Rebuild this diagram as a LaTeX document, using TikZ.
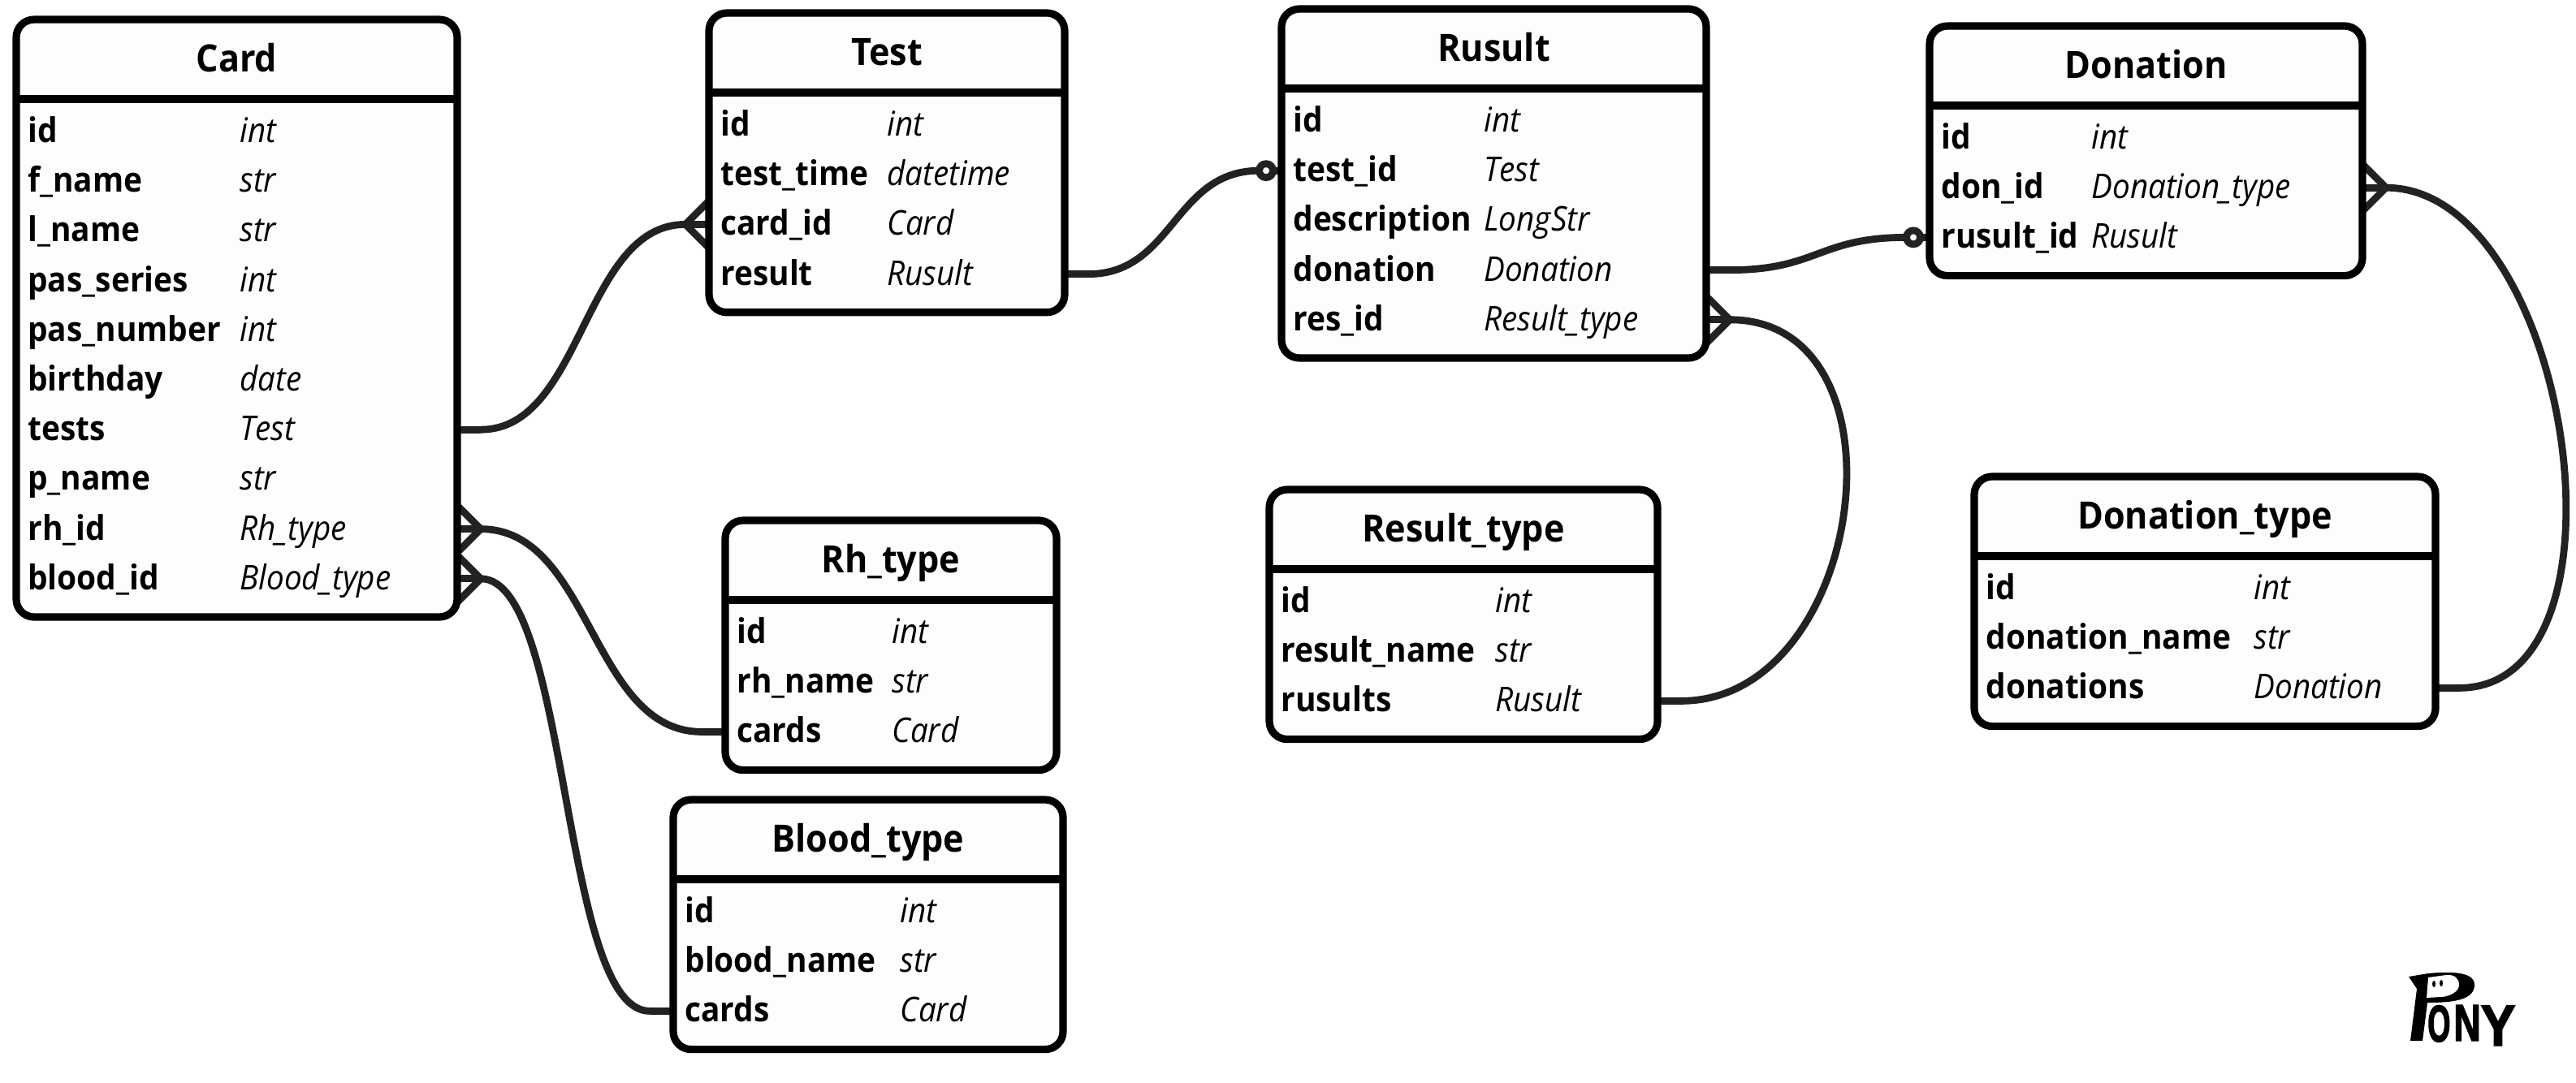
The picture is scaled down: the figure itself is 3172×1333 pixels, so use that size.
\documentclass[tikz,border=0pt]{standalone}
\usepackage{fontspec}
\setmainfont{Open Sans}
\newfontfamily\namefont[FakeStretch=0.925]{Open Sans}
\newfontfamily\titlefont[FakeStretch=0.93]{Open Sans}
\newfontfamily\typefont[FakeStretch=0.92]{Open Sans}
\newfontfamily\logoofont[FakeStretch=0.56,FakeBold=2]{Liberation Sans}
\newfontfamily\logonfont[FakeStretch=0.72,FakeBold=2]{Liberation Sans}
\newfontfamily\logoyfont[FakeStretch=0.9,FakeBold=2]{Liberation Sans}
\usetikzlibrary{calc}
\pgfdeclarelayer{connlayer}
\pgfsetlayers{connlayer,main}
\definecolor{boxfill}{HTML}{FDFDFD}
\definecolor{connink}{HTML}{222222}
\tikzset{
  x=0.5pt,y=-0.5pt,
  entitybox/.style={draw=black,fill=boxfill,line width=4.6pt,rounded corners=11pt,inner sep=0pt,outer sep=0pt,anchor=north west},
  headrule/.style={draw=black,line width=4.6pt},
  titletext/.style={font=\titlefont\fontsize{23.2pt}{24pt}\selectfont\bfseries,inner sep=0pt,anchor=base},
  fieldname/.style={font=\namefont\fontsize{21pt}{24pt}\selectfont\bfseries,inner sep=0pt,anchor=base west},
  fieldtype/.style={font=\typefont\fontsize{21pt}{24pt}\selectfont\itshape,inner sep=0pt,anchor=base west},
  connector/.style={draw=connink,line width=4.4pt,line join=round},
  ring/.style={circle,draw=connink,fill=white,line width=4.4pt,minimum size=8.5pt,inner sep=0pt,outer sep=0pt},
  logoletter/.style={inner sep=0pt,anchor=base west,text=black},
}
% id, x0, y0, x1, rows, typex, title
\newcommand\entitydef[7]{%
  \def\eid{#1}\def\exa{#2}\def\eya{#3}\def\exb{#4}\def\etx{#6}%
  \pgfmathsetmacro\ehgt{124+#5*61.2}%
  \node[entitybox,minimum width={(#4-#2)*0.5pt},minimum height={\ehgt*0.5pt}] (#1) at (#2,#3) {};
  \draw[headrule] (#2,#3+98) -- (#4,#3+98);
  \node[titletext] (#1-title) at ({(#2+#4)/2},#3+64.5) {#7};
}
% index, name, type
\newcommand\fieldrow[3]{%
  \pgfmathsetmacro\ebase{\eya+151.5+#1*61.2}%
  \pgfmathsetmacro\emid{\ebase-13.5}%
  \node[fieldname] (\eid-n#1) at (\exa+14,\ebase) {#2};
  \node[fieldtype] (\eid-t#1) at (\etx,\ebase) {#3};
  \coordinate (\eid-w#1) at (\exa,\emid);
  \coordinate (\eid-e#1) at (\exb,\emid);
}
% edge point, direction (+1 right of the edge, -1 left of it), tip name
\newcommand\crowfoot[3]{%
  \coordinate (#3) at ($(#1)+(#2*29,0)$);
  \draw[connector] (#1) -- (#3);
  \draw[connector] ($(#1)+(0,-29)$) -- (#3) -- ($(#1)+(0,29)$);
}
% edge point, direction, stub end name
\newcommand\stubline[3]{%
  \coordinate (#3) at ($(#1)+(#2*29,0)$);
  \draw[connector] (#1) -- (#3);
}
\begin{document}
\begin{tikzpicture}
\useasboundingbox (0,0) rectangle (3172,1333);

\entitydef{card}{20}{24}{563}{10}{295}{Card}
\fieldrow{0}{id}{int}
\fieldrow{1}{f\_name}{str}
\fieldrow{2}{l\_name}{str}
\fieldrow{3}{pas\_series}{int}
\fieldrow{4}{pas\_number}{int}
\fieldrow{5}{birthday}{date}
\fieldrow{6}{tests}{Test}
\fieldrow{7}{p\_name}{str}
\fieldrow{8}{rh\_id}{Rh\_type}
\fieldrow{9}{blood\_id}{Blood\_type}

\entitydef{test}{873}{16}{1311}{4}{1092}{Test}
\fieldrow{0}{id}{int}
\fieldrow{1}{test\_time}{datetime}
\fieldrow{2}{card\_id}{Card}
\fieldrow{3}{result}{Rusult}

\entitydef{rusult}{1578}{11}{2101}{5}{1827}{Rusult}
\fieldrow{0}{id}{int}
\fieldrow{1}{test\_id}{Test}
\fieldrow{2}{description}{LongStr}
\fieldrow{3}{donation}{Donation}
\fieldrow{4}{res\_id}{Result\_type}

\entitydef{donation}{2376}{32}{2909}{3}{2575}{Donation}
\fieldrow{0}{id}{int}
\fieldrow{1}{don\_id}{Donation\_type}
\fieldrow{2}{rusult\_id}{Rusult}

\entitydef{rhtype}{893}{641}{1301}{3}{1098}{Rh\_type}
\fieldrow{0}{id}{int}
\fieldrow{1}{rh\_name}{str}
\fieldrow{2}{cards}{Card}

\entitydef{bloodtype}{829}{985}{1309}{3}{1108}{Blood\_type}
\fieldrow{0}{id}{int}
\fieldrow{1}{blood\_name}{str}
\fieldrow{2}{cards}{Card}

\entitydef{resulttype}{1563}{603}{2041}{3}{1841}{Result\_type}
\fieldrow{0}{id}{int}
\fieldrow{1}{result\_name}{str}
\fieldrow{2}{rusults}{Rusult}

\entitydef{dontype}{2431}{587}{2999}{3}{2775}{Donation\_type}
\fieldrow{0}{id}{int}
\fieldrow{1}{donation\_name}{str}
\fieldrow{2}{donations}{Donation}

\begin{pgfonlayer}{connlayer}
  \crowfoot{test-w2}{-1}{tipa}
  \stubline{card-e6}{1}{stuba}
  \draw[connector] (stuba) .. controls +(126,0) and +(-126,0) .. (tipa);
  \crowfoot{card-e8}{1}{tipb}
  \stubline{rhtype-w2}{-1}{stubb}
  \draw[connector] (tipb) .. controls +(136,0) and +(-136,0) .. (stubb);
  \crowfoot{card-e9}{1}{tipc}
  \stubline{bloodtype-w2}{-1}{stubc}
  \draw[connector] (tipc) .. controls +(110,0) and +(-110,0) .. (stubc);
  \crowfoot{rusult-e4}{1}{tipd}
  \stubline{resulttype-e2}{1}{stubd}
  \draw[connector] (tipd) .. controls +(228,0) and +(228,0) .. (stubd);
  \crowfoot{donation-e1}{1}{tipe}
  \stubline{dontype-e2}{1}{stube}
  \draw[connector] (tipe) .. controls +(227,0) and +(227,0) .. (stube);
  \node[ring] (ringa) at ($(rusult-w1)+(-19,0)$) {};
  \draw[connector] (ringa) -- (rusult-w1);
  \stubline{test-e3}{1}{stubf}
  \draw[connector] (stubf) .. controls +(105,0) and +(-105,0) .. (ringa.west);
  \node[ring] (ringb) at ($(donation-w2)+(-20,0)$) {};
  \draw[connector] (ringb) -- (donation-w2);
  \stubline{rusult-e3}{1}{stubg}
  \draw[connector] (stubg) .. controls +(108,0) and +(-108,0) .. (ringb.west);
\end{pgfonlayer}

% logo
\path[fill=black] (2966,1203) -- (2990,1199) .. controls (3010,1197) and (3047,1195) .. (3047,1213)
  .. controls (3047,1232) and (3020,1235) .. (2989,1235) -- (2983,1282) -- (2968,1282) -- (2976,1218) -- cycle;
\path[fill=white] (2990,1204) -- (3012,1201) .. controls (3022,1200) and (3028,1205) .. (3028,1213)
  .. controls (3028,1222) and (3015,1228) .. (3005,1228) -- (2988,1229) -- cycle;
\path[fill=black] (2997,1212) ellipse [x radius=2,y radius=4];
\path[fill=black] (3006,1211) ellipse [x radius=2,y radius=4];
\node[logoletter,font=\logoofont\bfseries\fontsize{32pt}{32pt}\selectfont] (logoo) at (2989,1283) {O};
\node[logoletter,font=\logonfont\bfseries\fontsize{32pt}{32pt}\selectfont] (logon) at (3021,1282) {N};
\node[logoletter,font=\logoyfont\bfseries\fontsize{36pt}{36pt}\selectfont] (logoy) at (3054,1288) {Y};
\end{tikzpicture}
\end{document}
